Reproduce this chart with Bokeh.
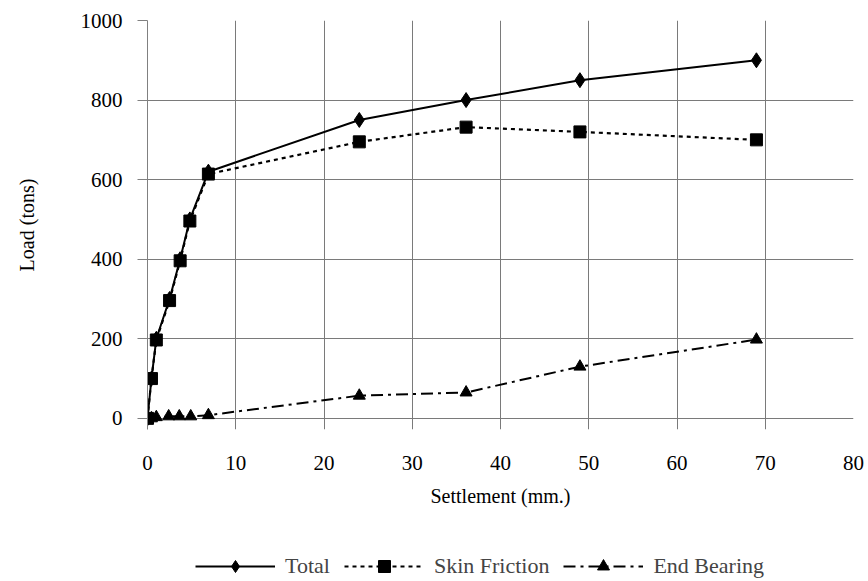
from bokeh.plotting import figure
from bokeh.layouts import column
from bokeh.models import Legend, LegendItem, FixedTicker, Range1d
from bokeh.embed import file_html
from bokeh.resources import INLINE

# Data
total_x = [0, 0.45, 1.0, 2.5, 3.7, 4.8, 6.9, 24, 36.1, 49, 69]
total_y = [0, 100, 200, 300, 400, 500, 620, 750, 800, 850, 900]
skin_x = [0, 0.45, 1.0, 2.5, 3.7, 4.8, 6.9, 24, 36.1, 49, 69]
skin_y = [0, 100, 197, 296, 396, 496, 614, 695, 732, 720, 700]
end_x = [0, 0.45, 1.0, 2.4, 3.6, 4.9, 6.9, 24, 36.1, 49, 69]
end_y = [0, 0, 3, 5, 5, 5, 8, 57, 65, 130, 198]
x_ticks = [0, 10, 20, 30, 40, 50, 60, 70, 80]
y_ticks = [0, 200, 400, 600, 800, 1000]
series_names = ["Total", "Skin Friction", "End Bearing"]

FONT = "Liberation Serif"
TOTAL_W, TOTAL_H = 868, 581
MAIN_H = 540

p = figure(width=TOTAL_W, height=MAIN_H, output_backend="svg", toolbar_location=None,
           x_range=(0, 80), y_range=(-28, 1000),
           min_border_left=147, min_border_right=15, min_border_top=20,
           min_border_bottom=MAIN_H - 429)
p.outline_line_color = None

# axes
p.xaxis.ticker = FixedTicker(ticks=x_ticks)
p.yaxis.ticker = FixedTicker(ticks=y_ticks)
p.xaxis.axis_line_color = None
p.xaxis.major_tick_line_color = None
p.xaxis.minor_tick_line_color = None
p.xaxis.major_label_standoff = 20
p.xaxis.axis_label = "Settlement (mm.)"
p.xaxis.axis_label_standoff = 12
p.yaxis.axis_label = "Load (tons)"
p.yaxis.axis_label_standoff = 40
p.yaxis.axis_line_color = "#808080"
p.yaxis.major_tick_line_color = "#808080"
p.yaxis.major_tick_out = 10
p.yaxis.major_tick_in = 0
p.yaxis.minor_tick_line_color = None
p.yaxis.major_label_standoff = 15
for ax in (p.xaxis[0], p.yaxis[0]):
    ax.major_label_text_font = FONT
    ax.major_label_text_font_size = "21px"
    ax.major_label_text_color = "black"
    ax.axis_label_text_font = FONT
    ax.axis_label_text_font_size = "20px"
    ax.axis_label_text_font_style = "normal"
    ax.axis_label_text_color = "black"

# grid
p.xgrid.ticker = FixedTicker(ticks=x_ticks)
p.ygrid.ticker = FixedTicker(ticks=y_ticks)
p.grid.grid_line_color = "#7a7a7a"
p.grid.grid_line_width = 1

# series
SKIN_DASH = "4 4"
END_DASH = "12 5 3 5"
p.line(total_x, total_y, line_color="black", line_width=2)
p.scatter(total_x, total_y, marker="diamond", size=15, fill_color="black", line_color="black")
p.line(skin_x, skin_y, line_color="black", line_width=2.2, line_dash=SKIN_DASH)
p.scatter(skin_x, skin_y, marker="square", size=12, fill_color="black", line_color="black")
p.line(end_x, end_y, line_color="black", line_width=2, line_dash=END_DASH)
p.scatter(end_x, end_y, marker="triangle", size=12, fill_color="black", line_color="black")

# legend strip below the chart (its renderers sit outside the visible range)
lg = figure(width=TOTAL_W, height=TOTAL_H - MAIN_H, output_backend="svg", toolbar_location=None,
            x_range=Range1d(0, 1), y_range=Range1d(0, 1), min_border=0)
lg.axis.visible = False
lg.grid.visible = False
lg.outline_line_color = None
hx, hy = [-3, -2], [-3, -2]
r1 = [lg.line(hx, hy, line_color="black", line_width=2),
      lg.scatter(hx, hy, marker="diamond", size=15, fill_color="black", line_color="black")]
r2 = [lg.line(hx, hy, line_color="black", line_width=2.2, line_dash=SKIN_DASH),
      lg.scatter(hx, hy, marker="square", size=12, fill_color="black", line_color="black")]
r3 = [lg.line(hx, hy, line_color="black", line_width=2, line_dash=END_DASH),
      lg.scatter(hx, hy, marker="triangle", size=12, fill_color="black", line_color="black")]
legend = Legend(items=[LegendItem(label=n, renderers=r) for n, r in zip(series_names, [r1, r2, r3])],
                orientation="horizontal", location=(48, 0))
legend.label_text_font = FONT
legend.label_text_font_size = "22px"
legend.label_height = 20
legend.glyph_width = 80
legend.glyph_height = 30
legend.spacing = 14
legend.label_standoff = 10
legend.padding = 2
legend.margin = 0
legend.border_line_color = None
legend.background_fill_alpha = 0
lg.add_layout(legend, "center")

open("out.html", "w").write(file_html(column(p, lg, spacing=0), INLINE))
